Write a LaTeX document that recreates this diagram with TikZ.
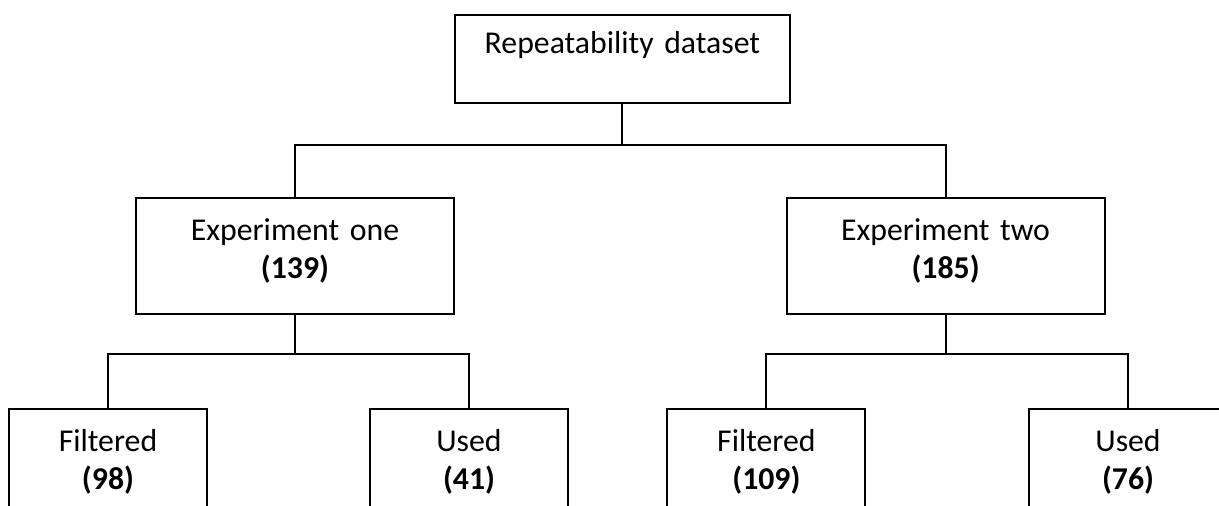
\documentclass[tikz,border=0pt]{standalone}
\usepackage{fontspec}
\setmainfont{Carlito}
\begin{document}
\begin{tikzpicture}[line width=1.3pt,
        every node/.style={font=\fontsize{22.6}{27}\selectfont},
        box/.style={draw, rectangle, anchor=north, align=center, inner sep=0pt},
        topbox/.style={box, text width=8.375cm, text height=0.975cm, text depth=1.225cm},
        expbox/.style={box, text width=7.95cm, text height=1.075cm, text depth=1.825cm},
        leafbox/.style={expbox, text width=4.95cm}]
        \useasboundingbox (0,0) rectangle (30.475,-12.65);
        \clip (0,0) rectangle (30.475,-12.65);

        \node[topbox] (rep) at (15.56,-0.35) {Repeatability dataset};

        \node[expbox] (exp1) at (7.375,-4.925) {Experiment one\\\textbf{(139)}};
        \node[expbox] (exp2) at (23.64,-4.925) {Experiment two\\\textbf{(185)}};

        \node[leafbox] (filt1) at (2.7,-10.2) {Filtered\\\textbf{(98)}};
        \node[leafbox] (used1) at (11.725,-10.2) {Used\\\textbf{(41)}};
        \node[leafbox] (filt2) at (19.16,-10.2) {Filtered\\\textbf{(109)}};
        \node[leafbox] (used2) at (28.2,-10.2) {Used\\\textbf{(76)}};

        \foreach \b in {exp1,exp2} {
                \draw (rep.south) -- ++(0,-1.025) -| (\b.north);
            }
        \foreach \b in {filt1,used1} {
                \draw (exp1.south) -- ++(0,-0.975) -| (\b.north);
            }
        \foreach \b in {filt2,used2} {
                \draw (exp2.south) -- ++(0,-0.975) -| (\b.north);
            }
    \end{tikzpicture}
\end{document}
